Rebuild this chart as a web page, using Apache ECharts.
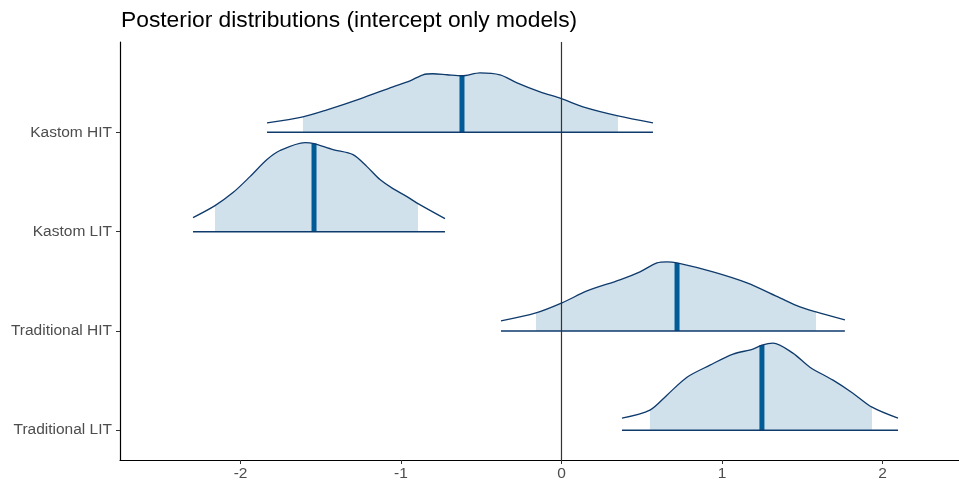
<!DOCTYPE html>
<html>
<head>
<meta charset="utf-8">
<script src="https://cdn.jsdelivr.net/npm/echarts@6/dist/echarts.min.js"></script>
<style>
  html, body { margin: 0; padding: 0; background: #ffffff; }
  #chart { width: 959px; height: 482px; }
</style>
</head>
<body>
<div id="chart"></div>
<script>
// Parameter names, top to bottom
const categories = ['Kastom HIT', 'Kastom LIT', 'Traditional HIT', 'Traditional LIT'];

// Posterior density estimates (x = parameter value, h = scaled density height)
const kastomHitX = [-1.835, -1.611, -1.461, -1.255, -1.050, -0.944, -0.863, -0.801, -0.713, -0.620, -0.508, -0.383, -0.277, -0.134, 0.003, 0.134, 0.352, 0.570];
const kastomHitH = [0.096, 0.156, 0.227, 0.338, 0.459, 0.519, 0.580, 0.590, 0.580, 0.570, 0.600, 0.580, 0.499, 0.408, 0.338, 0.257, 0.166, 0.096];

const kastomLitX = [-2.296, -2.159, -2.047, -1.941, -1.835, -1.754, -1.598, -1.542, -1.424, -1.299, -1.212, -1.131, -1.050, -0.963, -0.894, -0.726];
const kastomLitH = [0.141, 0.262, 0.393, 0.554, 0.726, 0.817, 0.897, 0.887, 0.827, 0.776, 0.655, 0.524, 0.433, 0.353, 0.282, 0.131];

const tradHitX = [-0.377, -0.159, 0.003, 0.159, 0.364, 0.489, 0.595, 0.657, 0.720, 0.944, 1.156, 1.361, 1.486, 1.586, 1.766];
const tradHitH = [0.101, 0.181, 0.282, 0.403, 0.514, 0.595, 0.685, 0.696, 0.685, 0.595, 0.484, 0.333, 0.242, 0.192, 0.111];

const tradLitX = [0.377, 0.551, 0.657, 0.782, 0.925, 1.069, 1.193, 1.249, 1.318, 1.442, 1.548, 1.692, 1.816, 1.935, 2.097];
const tradLitH = [0.121, 0.202, 0.353, 0.534, 0.655, 0.766, 0.817, 0.857, 0.877, 0.776, 0.635, 0.504, 0.373, 0.232, 0.121];

// Point estimates (median) and credible interval bounds
const medians = [-0.620, -1.542, 0.720, 1.249];
const lower = [-1.611, -2.159, -0.159, 0.551];
const upper = [0.352, -0.894, 1.586, 1.935];

// Axis ticks
const xTicks = [-2, -1, 0, 1, 2];
const yTicks = [4, 3, 2, 1];

const densX = [kastomHitX, kastomLitX, tradHitX, tradLitX];
const densH = [kastomHitH, kastomLitH, tradHitH, tradLitH];

const Y_MIN = 0.7, Y_MAX = 4.91;
const X_MIN = -2.751, X_MAX = 2.477;

const colFill = '#d1e1ec';
const colLine = '#0e3a6c';
const colMedian = '#005b96';
const fontFamily = 'Liberation Sans, Arial, sans-serif';

const series = [];
categories.forEach((name, i) => {
  const base = yTicks[i];
  const xs = densX[i], hs = densH[i];
  const pts = xs.map((x, j) => [x, base + hs[j]]);
  const inner = pts.filter(p => p[0] >= lower[i] - 1e-9 && p[0] <= upper[i] + 1e-9);
  const mIdx = xs.indexOf(medians[i]);
  const mH = hs[mIdx];

  // shaded interval
  series.push({
    type: 'line', data: inner, smooth: 0.3, symbol: 'none', silent: true, z: 1,
    lineStyle: { width: 0, color: colFill },
    areaStyle: { color: colFill, opacity: 1, origin: base }
  });
  // median segment
  series.push({
    type: 'line', data: [[medians[i], base], [medians[i], base + mH]], symbol: 'none', silent: true, z: 2,
    lineStyle: { width: 5, color: colMedian }
  });
  // density outline
  series.push({
    type: 'line', data: pts, smooth: 0.3, symbol: 'none', silent: true, z: 3,
    lineStyle: { width: 1.3, color: colLine }
  });
  // baseline across full range
  series.push({
    type: 'line', data: [[xs[0], base], [xs[xs.length - 1], base]], symbol: 'none', silent: true, z: 3,
    lineStyle: { width: 1.5, color: colLine }
  });
});

// reference line at zero
series.push({
  type: 'line', data: [[0, Y_MIN], [0, Y_MAX]], symbol: 'none', silent: true, z: 4,
  lineStyle: { width: 1.2, color: '#333333' }
});

const chart = echarts.init(document.getElementById('chart'), null, { renderer: 'canvas' });
chart.setOption({
  animation: false,
  backgroundColor: '#ffffff',
  title: {
    text: 'Posterior distributions (intercept only models)',
    left: 121, top: 9, padding: 0,
    textStyle: { fontFamily: fontFamily, fontSize: 22.8, fontWeight: 'normal', color: '#000000' }
  },
  grid: { left: 120, right: 0, top: 42, bottom: 22, containLabel: false },
  xAxis: {
    type: 'value', min: X_MIN, max: X_MAX,
    splitLine: { show: false },
    axisLine: { show: true, onZero: false, lineStyle: { color: '#000000', width: 1.2 } },
    axisTick: { show: true, length: 4, customValues: xTicks, lineStyle: { color: '#333333', width: 1 } },
    axisLabel: {
      customValues: xTicks, margin: 6, color: '#4d4d4d', fontSize: 15.5, fontFamily: fontFamily
    }
  },
  yAxis: {
    type: 'value', min: Y_MIN, max: Y_MAX,
    splitLine: { show: false },
    axisLine: { show: true, onZero: false, lineStyle: { color: '#000000', width: 1.2 } },
    axisTick: { show: true, length: 4, customValues: yTicks, lineStyle: { color: '#333333', width: 1 } },
    axisLabel: {
      customValues: yTicks, margin: 8, color: '#4d4d4d', fontSize: 15.5, fontFamily: fontFamily,
      formatter: v => categories[yTicks.indexOf(Math.round(v))] || ''
    }
  },
  series: series
});
</script>
</body>
</html>
